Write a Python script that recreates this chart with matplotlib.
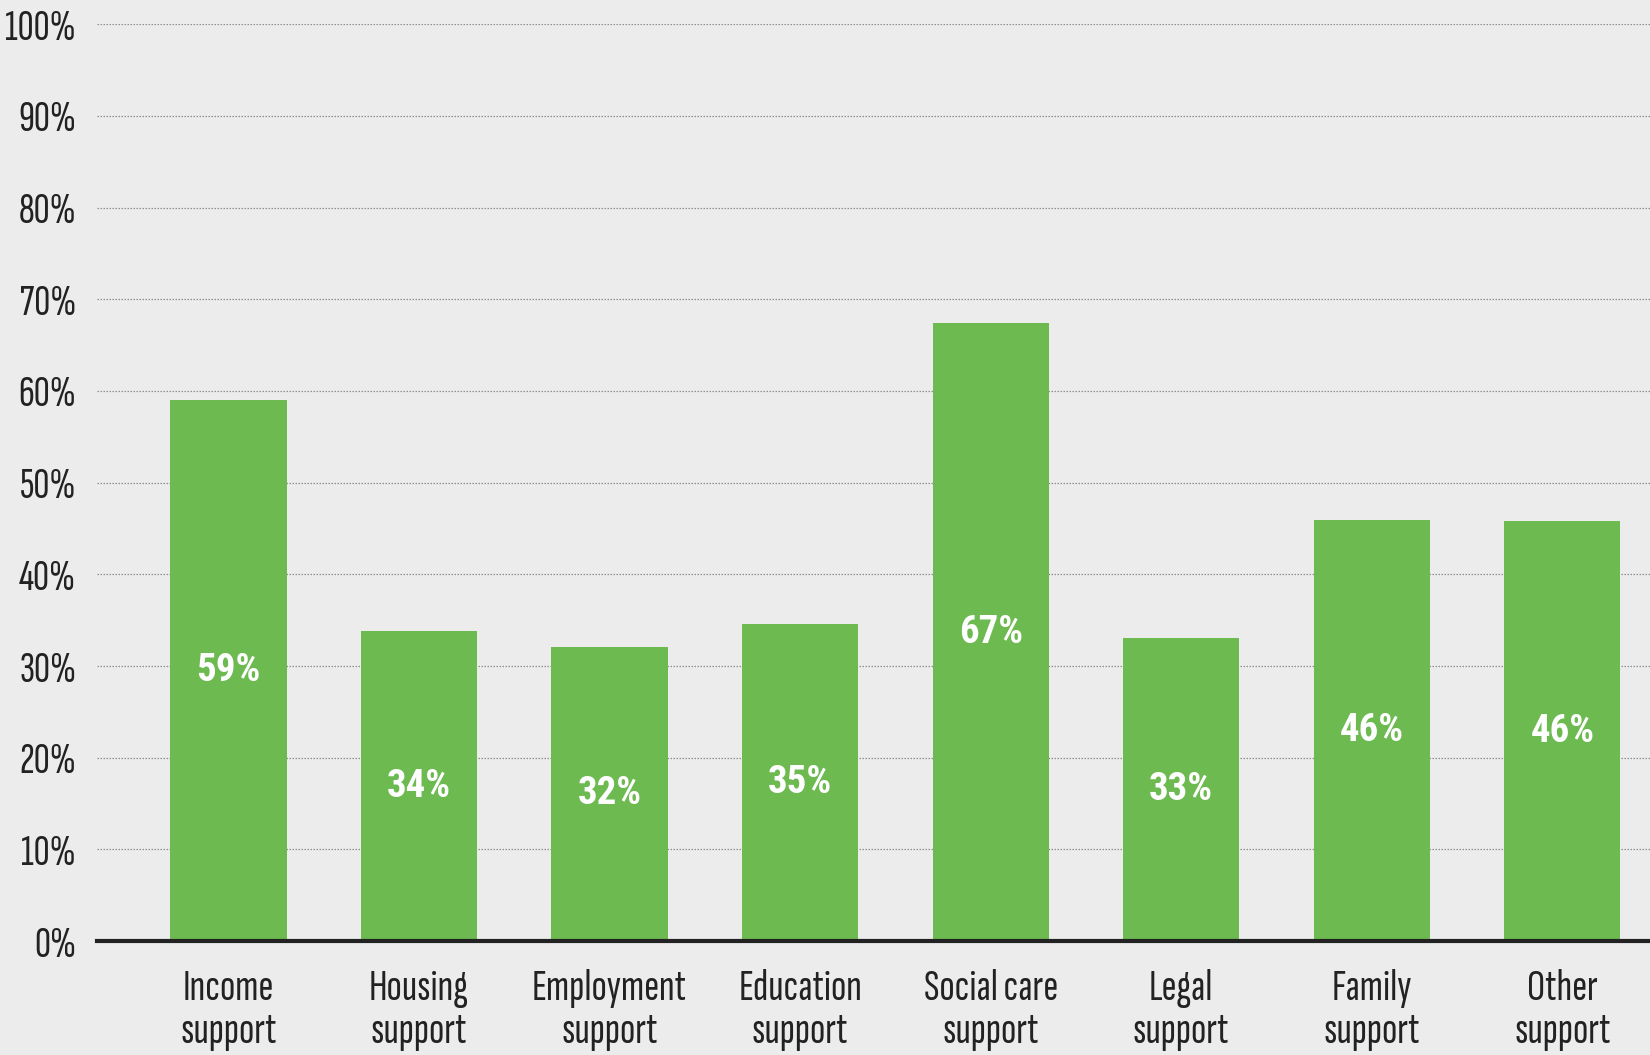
import matplotlib
matplotlib.use("Agg")
import matplotlib.pyplot as plt
from matplotlib import font_manager
import numpy as np

# pick narrow sans faces that are installed, fall back to DejaVu Sans
installed = {f.name for f in font_manager.fontManager.ttflist}
axis_font = [p for p in ["Sofia Sans Extra Condensed", "Roboto Condensed"] if p in installed][:1] + ['DejaVu Sans']
label_font = [p for p in ["Roboto Condensed"] if p in installed] + ['DejaVu Sans']
plt.rcParams['font.family'] = axis_font

categories = ["Income\nsupport", "Housing\nsupport", "Employment\nsupport", "Education\nsupport",
              "Social care\nsupport", "Legal\nsupport", "Family\nsupport", "Other\nsupport"]
values = [59.0, 33.8, 32.1, 34.6, 67.4, 33.1, 45.9, 45.8]
labels = ["59%", "34%", "32%", "35%", "67%", "33%", "46%", "46%"]
yticks = [0, 10, 20, 30, 40, 50, 60, 70, 80, 90, 100]

bg = "#ececec"
green = "#6dba51"

fig = plt.figure(figsize=(16.5, 10.55), dpi=100, facecolor=bg)
ax = fig.add_axes([0.0588, 0.108, 0.9412, 0.869], facecolor=bg)

x = np.arange(len(categories))
bars = ax.bar(x, values, width=0.61, color=green, zorder=2)

# value labels in the middle of each bar
for rect, lab in zip(bars, labels):
    ax.text(rect.get_x() + rect.get_width() / 2, rect.get_height() / 2, lab,
            ha="center", va="center", color="white", fontsize=28, fontweight="bold",
            family=label_font, zorder=3)

ax.set_xlim(-0.69, 7.46)
ax.set_ylim(0, 100)
ax.set_yticks(yticks)
ax.set_yticklabels([f"{t}%" for t in yticks])
ax.set_xticks(x)
ax.set_xticklabels(categories, linespacing=1.12)

ax.tick_params(axis="y", length=0, pad=15, labelsize=32, labelcolor="#222222")
ax.tick_params(axis="x", length=0, pad=20, labelsize=32.5, labelcolor="#222222")

ax.yaxis.grid(True, linestyle=(0, (1.2, 1.2)), color="#8f8f8f", linewidth=0.9, zorder=0)
ax.set_axisbelow(True)

for side in ["top", "right", "left"]:
    ax.spines[side].set_visible(False)
ax.spines["bottom"].set_color("#222222")
ax.spines["bottom"].set_linewidth(3)
ax.spines["bottom"].set_zorder(4)

fig.savefig("out.png", dpi=100, facecolor=bg)
